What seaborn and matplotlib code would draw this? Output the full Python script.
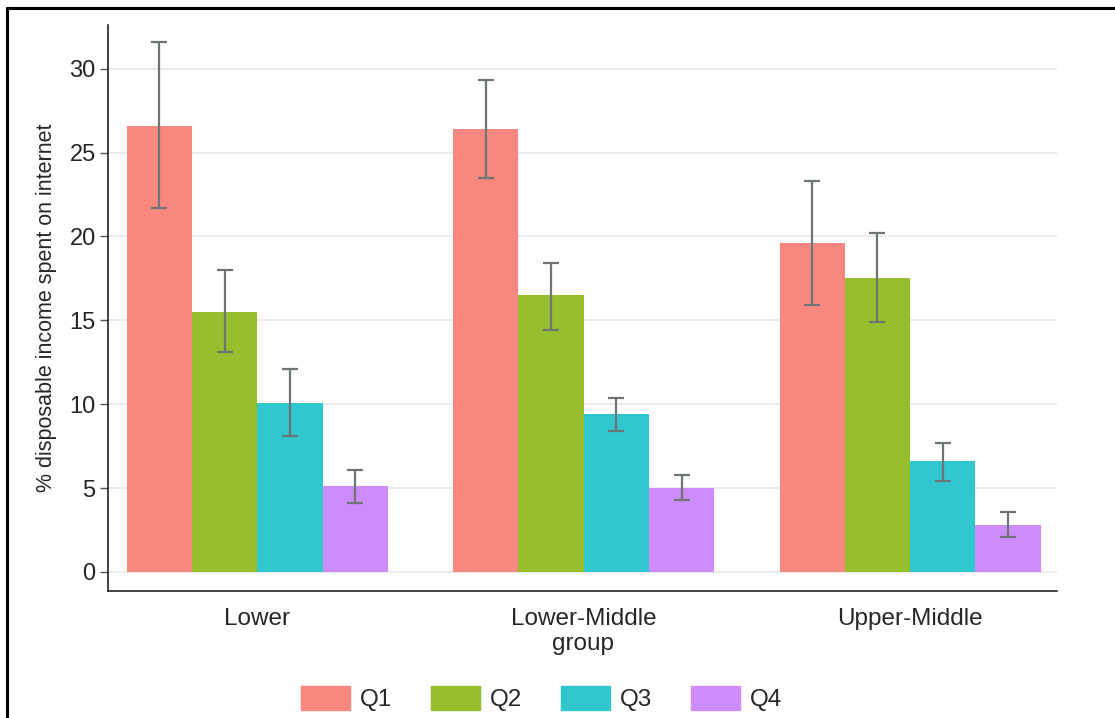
import matplotlib
matplotlib.use("Agg")
import matplotlib.pyplot as plt
import seaborn as sns
import pandas as pd
from matplotlib.lines import Line2D

# values
groups = ["Lower", "Lower-Middle", "Upper-Middle"]
quartiles = ["Q1", "Q2", "Q3", "Q4"]
q1_mean = [26.6, 26.4, 19.6]
q2_mean = [15.5, 16.5, 17.5]
q3_mean = [10.1, 9.4, 6.6]
q4_mean = [5.1, 5.0, 2.8]
q1_lo = [21.7, 23.5, 15.9]
q1_hi = [31.6, 29.3, 23.3]
q2_lo = [13.1, 14.4, 14.9]
q2_hi = [18.0, 18.4, 20.2]
q3_lo = [8.1, 8.4, 5.4]
q3_hi = [12.1, 10.4, 7.7]
q4_lo = [4.1, 4.3, 2.1]
q4_hi = [6.1, 5.8, 3.6]
palette = ["#F8877F", "#97BE2C", "#30C8CE", "#CE8BFB"]

means = [q1_mean, q2_mean, q3_mean, q4_mean]
lows = [q1_lo, q2_lo, q3_lo, q4_lo]
highs = [q1_hi, q2_hi, q3_hi, q4_hi]

rows = []
for qi, q in enumerate(quartiles):
    for gi, g in enumerate(groups):
        rows.append({"group": g, "quartile": q, "value": means[qi][gi]})
df = pd.DataFrame(rows)

sns.set_style("white")
plt.rcParams["font.family"] = ["Liberation Sans", "DejaVu Sans"]

fig = plt.figure(figsize=(11.15, 7.18), dpi=100)
ax = fig.add_axes([0.097, 0.177, 0.851, 0.788])

sns.barplot(data=df, x="group", y="value", hue="quartile", order=groups,
            hue_order=quartiles, palette=palette, errorbar=None, width=0.8,
            saturation=1, linewidth=0, ax=ax, zorder=2)

# error bars on top of each bar
bar_containers = list(ax.containers)
for qi, cont in enumerate(bar_containers):
    for gi, bar in enumerate(cont):
        xc = bar.get_x() + bar.get_width() / 2
        m = means[qi][gi]
        ax.errorbar(xc, m, yerr=[[m - lows[qi][gi]], [highs[qi][gi] - m]],
                    color="#6E7575", capsize=6, elinewidth=1.6, capthick=1.6,
                    zorder=3)

ax.set_ylim(-1.13, 32.6)
ax.set_xlim(-0.457, 2.45)
ax.set_yticks([0, 5, 10, 15, 20, 25, 30])
ax.yaxis.grid(True, color="#EBEBEB", linewidth=1.5, zorder=0)
ax.set_axisbelow(True)
ax.tick_params(axis="y", left=True, length=6, width=1, color="#555555",
               labelsize=17, pad=3)
ax.tick_params(axis="x", bottom=False, labelsize=17.5, pad=9)
for s in ["top", "right"]:
    ax.spines[s].set_visible(False)
for s in ["left", "bottom"]:
    ax.spines[s].set_color("#222222")
    ax.spines[s].set_linewidth(1.2)

ax.set_ylabel("% disposable income spent on internet", fontsize=15.5, labelpad=9)
ax.set_xlabel("group", fontsize=17.5, labelpad=2)

ax.legend_.remove()
handles = [plt.Rectangle((0, 0), 1, 1, color=c) for c in palette]
fig.legend(handles, quartiles, loc="center", bbox_to_anchor=(0.486, 0.027),
           ncol=4, frameon=False, fontsize=17.5, handlelength=2.0,
           handleheight=1.15, handletextpad=0.42, columnspacing=1.6,
           borderpad=0.1)

# outer frame lines (top and left) of the source image
fig.add_artist(Line2D([0.006, 1.0], [0.989, 0.989], color="black", linewidth=2.2,
                      transform=fig.transFigure))
fig.add_artist(Line2D([0.0065, 0.0065], [0.0, 0.989], color="black", linewidth=2.2,
                      transform=fig.transFigure))

fig.savefig("out.png", dpi=100)
